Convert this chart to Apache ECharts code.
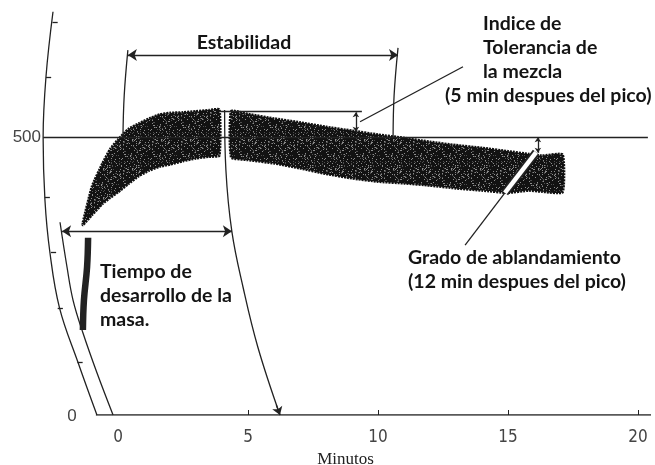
<!DOCTYPE html>
<html><head><meta charset="utf-8">
<script src="https://cdn.jsdelivr.net/npm/echarts@6/dist/echarts.min.js"></script>
<style>html,body{margin:0;padding:0;background:#fff}#c{width:655px;height:465px}</style>
</head><body><div id="c"></div>
<script>
// ---- data (minutes, Brabender units) ----
const xTickLabels = [0, 5, 10, 15, 20];
const xTickMarks = [5, 10, 15, 20];

// dough curve band, part before the peak gap
const bandT1 = [-1.35, -1.0, -0.6, -0.3, 0, 0.4, 0.8, 1.2, 1.6, 2.0, 2.5, 3.0, 3.5, 3.9];
const bandUpper1 = [347, 412, 453, 479, 496, 515, 525, 534, 541, 544, 545, 547, 549, 550];
const bandLower1 = [342, 360, 380, 391, 401, 416, 430, 440, 447, 451, 457, 462, 465, 467];
// dough curve band, part after the peak gap
const bandT2 = [4.35, 5, 6, 7, 8, 9, 10, 11, 12, 13, 14, 15, 15.8, 16.3, 17.1];
const bandUpper2 = [547, 542, 534, 527, 519, 512, 505, 499, 492, 486, 481, 475, 470, 467, 469];
const bandLower2 = [464, 459, 453, 444, 434, 426, 420, 417, 413, 408, 404, 400, 404, 402, 401];

// initial thick trace
const traceT = [-1.15, -1.19, -1.31, -1.35];
const traceV = [319, 266, 207, 153];

// recorder arcs
const axisArcT = [-2.50, -2.77, -2.88, -2.81, -2.62, -2.25, -1.54, -0.81];
const axisArcV = [726, 609, 500, 387, 293, 193, 95, 0];
const axisTickT = [-2.52, -2.77, -2.82, -2.58, -2.32, -1.56];
const axisTickV = [708, 609, 392, 293, 193, 95];
const zeroArcT = [-2.23, -1.96, -1.73, -1.35, -0.81, -0.19];
const zeroArcV = [347, 266, 207, 148, 76, 0];
const fiveArcT = [4.10, 4.15, 4.38, 4.81, 5.38, 6.23];
const fiveArcV = [549, 441, 330, 230, 122, 0];
const stabLeftT = [0.38, 0.24, 0.19];
const stabLeftV = [657, 576, 500];
const stabRightT = [10.77, 10.62, 10.58];
const stabRightV = [661, 576, 500];

// annotation values
const refLine = 500;
const peakV = 547;
const peakT = [3.92, 9.38];
const stabArrowV = 648; const stabArrowT = [0.38, 10.77];
const devArrowV = 331;  const devArrowT = [-2.15, 4.38];
const mtiT = 9.15; const mtiV = [545, 510];
const mtiPointer = [[13.27, 627], [9.31, 528]];
const softT = 16.15; const softV = [500, 472];
const softPointer = [[13.35, 306], [14.88, 400]];
const softStripe = [[14.88, 400], [16.08, 473]];
const fiveArrow = [[6.09, 18], [6.23, 0]];
const yLabels = ['500', '0'];

const INK = '#222';

// speckle texture for the recorded band (fixed hash tile, style only)
function speckleTile() {
  const n = 29;
  const c = document.createElement('canvas');
  c.width = n; c.height = n;
  const g = c.getContext('2d');
  g.fillStyle = '#121212'; g.fillRect(0, 0, n, n);
  for (let i = 0; i < n; i++) {
    for (let j = 0; j < n; j++) {
      let h = Math.imul(i + 1, 73856093) ^ Math.imul(j + 1, 19349663);
      h = Math.imul(h ^ (h >>> 13), 1274126177);
      h = ((h ^ (h >>> 16)) >>> 0) % 100;
      if (h < 9) { g.fillStyle = '#8c8c8c'; g.fillRect(i, j, 1, 1); }
      else if (h < 17) { g.fillStyle = '#4e4e4e'; g.fillRect(i, j, 1, 1); }
    }
  }
  return c;
}
const tile = speckleTile();

function arcSeries(t, v, w) {
  return {
    type: 'line', data: t.map((x, i) => [x, v[i]]), smooth: 0.4, symbol: 'none',
    lineStyle: { color: INK, width: w || 1.3 }, silent: true, z: 3
  };
}
function bandSeries(t, up, lo) {
  return {
    type: 'custom', data: [0], silent: true, z: 2,
    renderItem: function (params, api) {
      const pts = [];
      for (let i = 0; i < t.length; i++) pts.push(api.coord([t[i], up[i]]));
      for (let i = t.length - 1; i >= 0; i--) pts.push(api.coord([t[i], lo[i]]));
      return {
        type: 'polygon', shape: { points: pts, smooth: 0.15 },
        style: { fill: { image: tile, repeat: 'repeat' }, stroke: '#111', lineWidth: 2.5, lineDash: [2, 1] }
      };
    }
  };
}
function seg(a, b, s0, s1, size) {
  const p = [{ coord: a, symbol: s0 || 'none' }, { coord: b, symbol: s1 || 'none' }];
  if (size) { p[0].symbolSize = size; p[1].symbolSize = size; }
  return p;
}

const straight = [
  seg([-2.88, refLine], [20.38, refLine]),
  seg([peakT[0], peakV], [peakT[1], peakV]),
  seg([stabArrowT[0], stabArrowV], [stabArrowT[1], stabArrowV], 'arrow', 'arrow', 9),
  seg([devArrowT[0], devArrowV], [devArrowT[1], devArrowV], 'arrow', 'arrow', 9),
  seg([mtiT, mtiV[0]], [mtiT, mtiV[1]], 'arrow', 'arrow', 5),
  seg(mtiPointer[0], mtiPointer[1]),
  seg([softT, softV[0]], [softT, softV[1]], 'arrow', 'arrow', 5),
  seg(softPointer[0], softPointer[1]),
  seg(fiveArrow[0], fiveArrow[1], 'none', 'arrow', 8)
];
axisTickT.forEach((x, i) => straight.push(seg([x, axisTickV[i]], [x + 0.2, axisTickV[i]])));

const TXT = 'bold 19.5px Lato, sans-serif';
function label(text, x, y, align) {
  return { type: 'text', x: x, y: y, style: { text: text, align: align || 'left', verticalAlign: 'middle', font: TXT, fill: '#141414' } };
}

const option = {
  animation: false,
  grid: { left: 40, right: 4, top: 4, bottom: 50, containLabel: false, outerBoundsMode: 'none' },
  xAxis: {
    type: 'value', min: -3, max: 20.5,
    axisLine: { show: false }, splitLine: { show: false },
    axisTick: { show: true, inside: true, length: 5, customValues: xTickMarks, lineStyle: { color: INK } },
    axisLabel: { customValues: xTickLabels, fontFamily: 'Liberation Sans Narrow, DejaVu Sans Condensed, sans-serif', fontSize: 17, color: '#444', margin: 14 },
    name: 'Minutos', nameLocation: 'middle', nameGap: 35,
    nameTextStyle: { fontFamily: 'Liberation Serif, serif', fontSize: 17, color: '#222' }
  },
  yAxis: { type: 'value', min: 0, max: 740, show: false },
  series: [
    bandSeries(bandT1, bandUpper1, bandLower1),
    bandSeries(bandT2, bandUpper2, bandLower2),
    arcSeries(traceT, traceV, 6.5),
    arcSeries(axisArcT, axisArcV),
    arcSeries(zeroArcT, zeroArcV),
    arcSeries(fiveArcT, fiveArcV),
    arcSeries(stabLeftT, stabLeftV),
    arcSeries(stabRightT, stabRightV),
    {
      type: 'line', data: [[-0.85, 0], [20.5, 0]], symbol: 'none', silent: true, z: 3,
      lineStyle: { color: INK, width: 1.4 },
      markLine: {
        silent: true, animation: false, symbolSize: 8,
        label: { show: false }, emphasis: { disabled: true },
        lineStyle: { color: INK, width: 1.3, type: 'solid' },
        data: straight
      }
    },
    {
      type: 'line', data: softStripe, symbol: 'none', silent: true, z: 4,
      lineStyle: { color: INK, width: 8 }
    },
    {
      type: 'line', data: softStripe, symbol: 'none', silent: true, z: 5,
      lineStyle: { color: '#fff', width: 4.5 }
    }
  ],
  graphic: [
    { type: 'text', x: 41, y: 137, style: { text: yLabels[0], align: 'right', verticalAlign: 'middle', font: '17px "Liberation Sans Narrow", sans-serif', fill: '#444' } },
    { type: 'text', x: 72, y: 416, style: { text: yLabels[1], align: 'center', verticalAlign: 'middle', font: '17px "Liberation Sans Narrow", sans-serif', fill: '#444' } },
    label('Estabilidad', 244, 43, 'center'),
    label('Indice de', 483, 24),
    label('Tolerancia de', 483, 48),
    label('la mezcla', 483, 72),
    label('(5 min despues del pico)', 445, 96),
    label('Tiempo de', 100, 272),
    label('desarrollo de la', 100, 296),
    label('masa.', 100, 320),
    label('Grado de ablandamiento', 408, 258),
    label('(12 min despues del pico)', 408, 282)
  ]
};
const chart = echarts.init(document.getElementById('c'), null, { renderer: 'canvas' });
chart.setOption(option);
</script></body></html>
